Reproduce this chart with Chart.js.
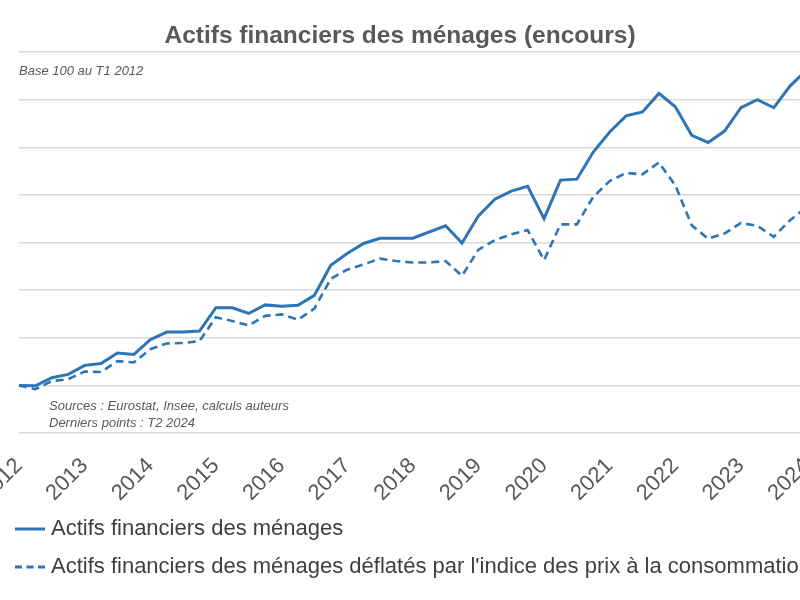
<!DOCTYPE html>
<html><head><meta charset="utf-8">
<script src="https://cdn.jsdelivr.net/npm/chart.js@4.4.1/dist/chart.umd.min.js"></script>
<style>
html,body{margin:0;padding:0;width:800px;height:600px;overflow:hidden;background:#fff;}
#wrap{position:relative;width:800px;height:600px;overflow:hidden;}
canvas{position:absolute;left:0;top:0;}
.t{position:absolute;font-family:"Liberation Sans",Arial,sans-serif;color:#595959;white-space:nowrap;}
#title{left:0;width:800px;text-align:center;top:21px;font-size:24.5px;font-weight:bold;line-height:28px;}
.note{font-style:italic;font-size:13px;}
</style></head><body>
<div id="wrap">
<canvas id="c" width="880" height="600" style="width:880px;height:600px"></canvas>
<div id="title" class="t">Actifs financiers des ménages (encours)</div>
<div class="t note" style="left:19px;top:63px;line-height:16px">Base 100 au T1 2012</div>
<div class="t note" style="left:49px;top:397px;line-height:17px">Sources : Eurostat, Insee, calculs auteurs<br>Derniers points : T2 2024</div>
</div>
<script>
const years = ['2012','2013','2014','2015','2016','2017','2018','2019','2020','2021','2022','2023','2024'];
const quarters = ['T1','T2','T3','T4'];
const seriesNames = ['Actifs financiers des ménages',
  "Actifs financiers des ménages déflatés par l'indice des prix à la consommation"];
const nominal = [100, 99.9, 101.6, 102.3, 104.2, 104.6, 106.8, 106.5, 109.6, 111.2,
  111.2, 111.4, 116.3, 116.3, 115.1, 116.9, 116.6, 116.8, 118.9, 125.2,
  127.7, 129.8, 130.9, 130.9, 130.9, 132.2, 133.5, 129.9, 135.6, 139.1,
  140.8, 141.8, 135.0, 143.1, 143.3, 149.0, 153.2, 156.6, 157.4, 161.3,
  158.5, 152.5, 151.0, 153.4, 158.3, 160.0, 158.3, 162.9, 166.2, 167.5];
const deflated = [100, 99.2, 100.9, 101.3, 102.9, 102.8, 105.1, 104.8, 107.6, 108.8,
  108.9, 109.3, 114.3, 113.5, 112.6, 114.6, 114.9, 113.8, 116.1, 122.4,
  124.3, 125.4, 126.6, 126.1, 125.8, 125.8, 126.1, 123.0, 128.5, 130.5,
  131.7, 132.6, 126.3, 133.8, 133.8, 139.6, 142.9, 144.6, 144.3, 146.8,
  142.0, 133.6, 130.8, 131.9, 134.1, 133.5, 131.2, 134.7, 137.4, 138.5];
const yMin = 90, yMax = 170, yStep = 10;

const labels = [];
years.forEach(y => quarters.forEach(q => labels.push(q + ' ' + y)));
labels.length = nominal.length;

const blue = '#2e75b6';
function legendSample(dash) {
  const c = document.createElement('canvas');
  c.width = 34; c.height = 6;
  const g = c.getContext('2d');
  g.strokeStyle = blue; g.lineWidth = 3; g.setLineDash(dash);
  g.beginPath(); g.moveTo(4, 3); g.lineTo(34, 3); g.stroke();
  return c;
}

new Chart(document.getElementById('c'), {
  type: 'line',
  data: {
    labels: labels,
    datasets: [
      {label: seriesNames[0], data: nominal, borderColor: blue, backgroundColor: blue,
       borderWidth: 3, pointRadius: 0, pointStyle: legendSample([]), tension: 0, fill: false},
      {label: seriesNames[1], data: deflated, borderColor: blue, backgroundColor: blue,
       borderWidth: 2.6, borderDash: [8, 5], pointRadius: 0, pointStyle: legendSample([7, 4.5]),
       tension: 0, fill: false}
    ]
  },
  options: {
    responsive: false,
    animation: false,
    layout: {padding: {left: 0, right: 57, top: 52, bottom: 12}},
    plugins: {
      title: {display: false},
      tooltip: {enabled: false},
      legend: {
        position: 'bottom', align: 'start',
        labels: {
          usePointStyle: true, pointStyleWidth: 24,
          padding: 16, color: '#404040',
          font: {family: '"Liberation Sans", Arial, sans-serif', size: 22}
        }
      }
    },
    scales: {
      x: {
        type: 'category', offset: false,
        grid: {display: false, drawTicks: false},
        border: {display: false},
        ticks: {
          autoSkip: false, maxRotation: 45, minRotation: 45, padding: 20,
          color: '#595959',
          font: {family: '"Liberation Sans", Arial, sans-serif', size: 22},
          callback: function(v) {
            const l = this.getLabelForValue(v);
            return l.startsWith('T1') ? l.slice(3) : '';
          }
        },
        afterFit: s => { s.height = 69; s.paddingLeft = 0; s.paddingRight = 0; }
      },
      y: {
        min: yMin, max: yMax,
        ticks: {display: false, stepSize: yStep},
        grid: {color: '#d9d9d9', lineWidth: 1.5, drawTicks: false},
        border: {display: false},
        afterFit: s => { s.width = 19; }
      }
    }
  }
});
</script>
</body></html>
